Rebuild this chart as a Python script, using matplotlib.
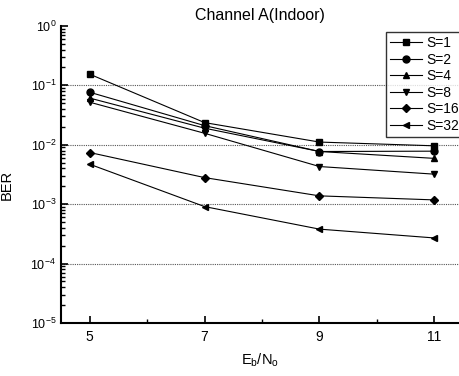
import matplotlib
matplotlib.use("Agg")
import matplotlib.pyplot as plt
from matplotlib.ticker import LogLocator, FixedLocator, NullFormatter

plt.rcParams["font.family"] = ["Liberation Sans", "DejaVu Sans"]
plt.rcParams["mathtext.default"] = "regular"

# Eb/No values and BER for each spreading factor S
ebno = [5, 7, 9, 11]
ber_s1 = [0.154, 0.0236, 0.0111, 0.0096]
ber_s2 = [0.0765, 0.021, 0.0077, 0.0078]
ber_s4 = [0.061, 0.019, 0.0077, 0.0059]
ber_s8 = [0.052, 0.0156, 0.0043, 0.0032]
ber_s16 = [0.0074, 0.0028, 0.00138, 0.00118]
ber_s32 = [0.0047, 0.00091, 0.00038, 0.00027]

series = [
    ("S=1", ber_s1, "s"),
    ("S=2", ber_s2, "o"),
    ("S=4", ber_s4, "^"),
    ("S=8", ber_s8, "v"),
    ("S=16", ber_s16, "D"),
    ("S=32", ber_s32, "<"),
]

fig = plt.figure(figsize=(4.59, 3.76), dpi=100)
ax = fig.add_axes([0.133, 0.141, 0.867, 0.79])

for label, vals, marker in series:
    ms = 4.5 if marker == "D" else 5
    ax.plot(ebno, vals, color="black", lw=0.8, marker=marker, ms=ms,
            mfc="black", mec="black", label=label)

ax.set_yscale("log")
ax.set_ylim(1e-5, 1)
ax.set_xlim(4.5, 11.43)
ax.xaxis.set_major_locator(FixedLocator([5, 7, 9, 11]))
ax.xaxis.set_minor_locator(FixedLocator([6, 8, 10]))
ax.yaxis.set_major_locator(LogLocator(base=10, numticks=10))
ax.yaxis.set_minor_locator(LogLocator(base=10, subs=range(2, 10), numticks=20))
ax.yaxis.set_minor_formatter(NullFormatter())

for y in [1e-1, 1e-2, 1e-3, 1e-4]:
    ax.axhline(y, color="#555555", lw=0.8, ls=(0, (1, 1)), zorder=0)

ax.spines["top"].set_visible(False)
ax.spines["right"].set_visible(False)
ax.spines["left"].set_linewidth(1.5)
ax.spines["bottom"].set_linewidth(1.5)
ax.tick_params(which="major", direction="in", length=5, width=1.2, labelsize=9)
ax.tick_params(axis="x", which="major", labelsize=10, pad=5)
ax.tick_params(which="minor", direction="in", length=3, width=1.0)

ax.set_title("Channel A(Indoor)", fontsize=11.5, pad=4)
ax.set_xlabel("$E_b/N_o$", fontsize=10.5)
ax.xaxis.set_label_coords(0.5, -0.095)
ax.set_ylabel("BER", fontsize=10.5)
ax.yaxis.set_label_coords(-0.12, 0.465)

leg = ax.legend(loc="upper right", bbox_to_anchor=(1.01, 0.98), fontsize=10,
                frameon=True, fancybox=False, edgecolor="black",
                handlelength=2.3, labelspacing=0.18, borderpad=0.3,
                handletextpad=0.3, borderaxespad=0.0)
leg.get_frame().set_linewidth(1.0)

fig.savefig("out.png", dpi=100)
